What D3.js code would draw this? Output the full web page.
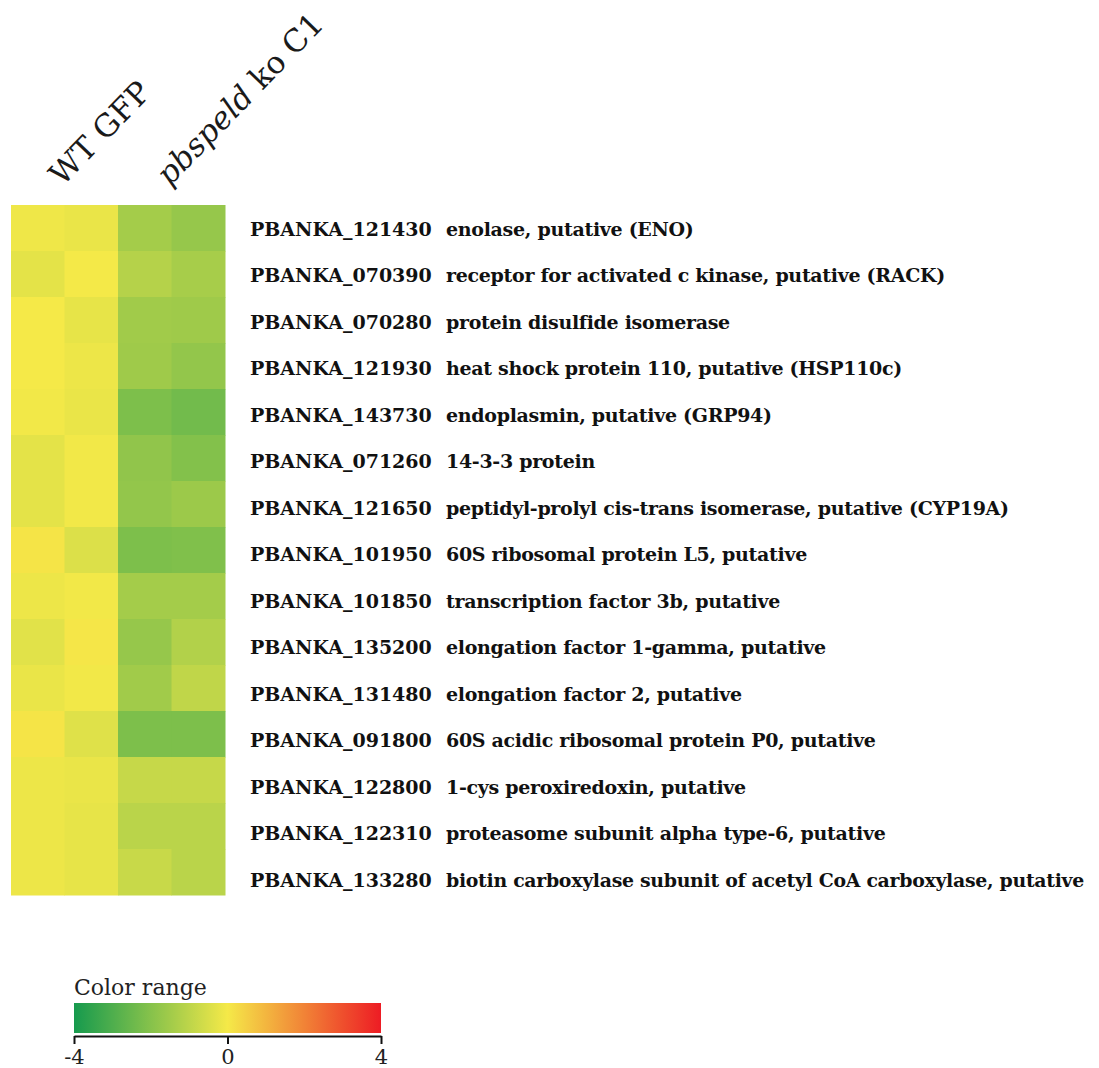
<!DOCTYPE html>
<html>
<head>
<meta charset="utf-8">
<script src="https://cdn.jsdelivr.net/npm/d3@7"></script>
<style>
  html, body { margin: 0; padding: 0; background: #fff; }
  svg { display: block; }
</style>
</head>
<body>
<svg id="chart" width="1099" height="1068"></svg>
<script>
// Samples (columns) and their groups
const samples = ["WT GFP r1", "WT GFP r2", "pbspeld ko C1 r1", "pbspeld ko C1 r2"];
const groups = [
  { italic: "", plain: "WT GFP", members: ["WT GFP r1", "WT GFP r2"] },
  { italic: "pbspeld", plain: " ko C1", members: ["pbspeld ko C1 r1", "pbspeld ko C1 r2"] }
];

// Genes (rows)
const geneIds = [
  "PBANKA_121430", "PBANKA_070390", "PBANKA_070280", "PBANKA_121930", "PBANKA_143730",
  "PBANKA_071260", "PBANKA_121650", "PBANKA_101950", "PBANKA_101850", "PBANKA_135200",
  "PBANKA_131480", "PBANKA_091800", "PBANKA_122800", "PBANKA_122310", "PBANKA_133280"
];
const geneNames = [
  "enolase, putative (ENO)",
  "receptor for activated c kinase, putative (RACK)",
  "protein disulfide isomerase",
  "heat shock protein 110, putative (HSP110c)",
  "endoplasmin, putative (GRP94)",
  "14-3-3 protein",
  "peptidyl-prolyl cis-trans isomerase, putative (CYP19A)",
  "60S ribosomal protein L5, putative",
  "transcription factor 3b, putative",
  "elongation factor 1-gamma, putative",
  "elongation factor 2, putative",
  "60S acidic ribosomal protein P0, putative",
  "1-cys peroxiredoxin, putative",
  "proteasome subunit alpha type-6, putative",
  "biotin carboxylase subunit of acetyl CoA carboxylase, putative"
];

// Log-scaled expression values, one array per sample column (row order as geneIds)
const wtGfp1 = [-0.10, -0.30, 0.00, 0.00, -0.05, -0.30, -0.30, 0.10, -0.15, -0.35, -0.20, 0.10, -0.15, -0.15, -0.15];
const wtGfp2 = [-0.20, -0.02, -0.25, -0.15, -0.20, -0.05, -0.05, -0.45, -0.05, 0.05, -0.05, -0.40, -0.20, -0.25, -0.25];
const koC1r1 = [-1.45, -1.15, -1.50, -1.55, -2.15, -1.80, -1.75, -2.15, -1.45, -1.70, -1.50, -2.15, -0.85, -1.05, -0.80];
const koC1r2 = [-1.70, -1.40, -1.55, -1.75, -2.35, -2.05, -1.60, -2.10, -1.45, -1.20, -0.95, -2.15, -0.85, -1.05, -1.05];
const columns = [wtGfp1, wtGfp2, koC1r1, koC1r2];

// Colour range legend
const legendTitle = "Color range";
const legendTicks = [-4, 0, 4];
const colorDomain = [-4, 0, 4];
const colorRange = ["#169a4e", "#f5e948", "#ed1c24"];

const cells = [];
geneIds.forEach((g, i) => {
  samples.forEach((s, j) => cells.push({ gene: g, sample: s, value: columns[j][i] }));
});

const svg = d3.select("#chart");
const color = d3.scaleLinear().domain(colorDomain).range(colorRange).interpolate(d3.interpolateRgb);

// Heatmap grid
const x = d3.scaleBand().domain(samples).range([11, 225]);
const y = d3.scaleBand().domain(geneIds).range([205, 895]);

svg.append("g").attr("class", "cells")
  .selectAll("rect").data(cells).join("rect")
  .attr("x", d => x(d.sample))
  .attr("y", d => y(d.gene))
  .attr("width", x.bandwidth() + 0.5)
  .attr("height", y.bandwidth() + 0.5)
  .attr("fill", d => color(d.value));

// Group headers, rotated
const headers = svg.append("g").attr("class", "headers")
  .style("font-family", "'DejaVu Serif', serif")
  .style("font-size", "31px")
  .attr("fill", "#1a1a1a");

groups.forEach(gr => {
  const cx = d3.mean(gr.members, m => x(m) + x.bandwidth() / 2);
  const t = headers.append("text")
    .attr("transform", `translate(${cx - 2},${187}) rotate(-46)`);
  if (gr.italic) t.append("tspan").style("font-style", "italic").text(gr.italic);
  t.append("tspan").text(gr.plain);
});

// Row labels: gene id + description
const labelY = d3.scalePoint().domain(geneIds).range([229, 880]);
const rightEdge = 1084;
const descX = 446;
const labels = svg.append("g").attr("class", "row-labels")
  .style("font-family", "'DejaVu Serif', serif")
  .style("font-weight", "bold")
  .style("font-size", "19px")
  .attr("fill", "#111");

geneIds.forEach((g, i) => {
  labels.append("text")
    .attr("x", 250).attr("y", labelY(g)).attr("dy", "0.35em")
    .text(g);
  const desc = labels.append("text")
    .attr("x", descX).attr("y", labelY(g)).attr("dy", "0.35em")
    .style("letter-spacing", "-0.3px")
    .text(geneNames[i]);
  // squeeze descriptions that would run past the right margin
  const w = desc.node().getComputedTextLength();
  if (w > rightEdge - descX) {
    desc.attr("textLength", rightEdge - descX).attr("lengthAdjust", "spacingAndGlyphs");
  }
});

// Legend
const lx = d3.scaleLinear().domain([-4, 4]).range([74, 381]);
const defs = svg.append("defs");
const grad = defs.append("linearGradient").attr("id", "legend-grad")
  .attr("x1", "0%").attr("x2", "100%").attr("y1", "0%").attr("y2", "0%");
d3.range(-4, 4.01, 0.5).forEach(v => {
  grad.append("stop").attr("offset", ((v + 4) / 8 * 100) + "%").attr("stop-color", color(v));
});

const legend = svg.append("g").attr("class", "legend");
legend.append("text")
  .attr("x", 74).attr("y", 995)
  .style("font-family", "'DejaVu Serif', serif")
  .style("font-size", "22px")
  .attr("fill", "#222")
  .text(legendTitle);

legend.append("rect")
  .attr("x", lx(-4)).attr("y", 1003)
  .attr("width", lx(4) - lx(-4)).attr("height", 30)
  .attr("fill", "url(#legend-grad)");

const axis = legend.append("g")
  .attr("transform", "translate(0,1036)")
  .call(d3.axisBottom(lx).tickValues(legendTicks).tickSize(8).tickSizeOuter(0).tickPadding(5));
axis.select(".domain").attr("stroke", "#111").attr("stroke-width", 2);
axis.selectAll(".tick line").attr("stroke", "#111").attr("stroke-width", 2);
axis.selectAll(".tick text")
  .style("font-family", "'DejaVu Serif', serif")
  .style("font-size", "21px")
  .attr("fill", "#222")
  .text(d => d < 0 ? "-" + Math.abs(d) : d);
</script>
</body>
</html>
